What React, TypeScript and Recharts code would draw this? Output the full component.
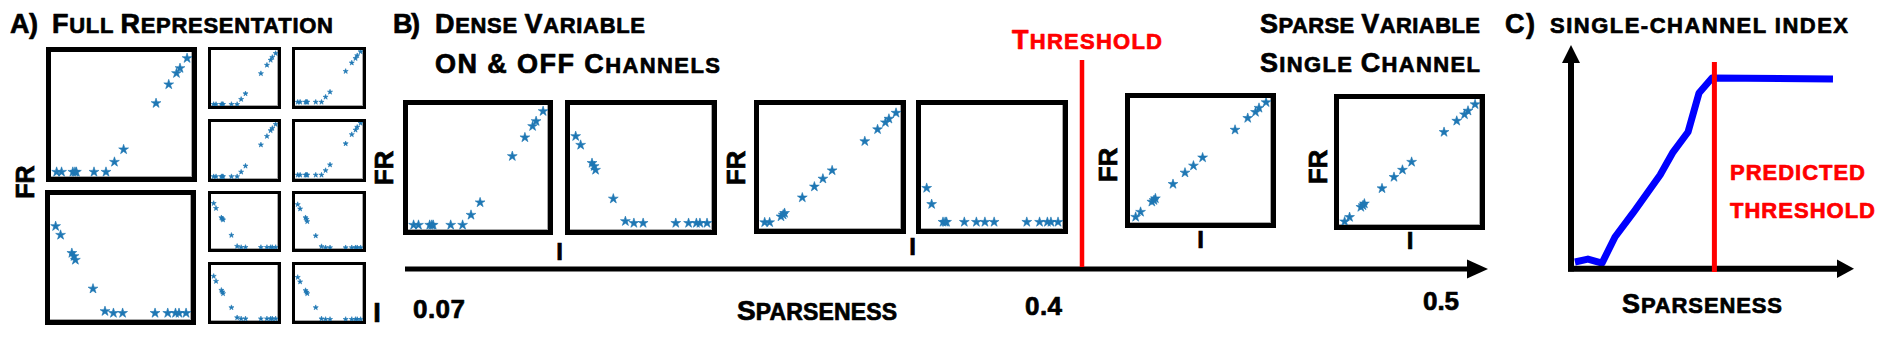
import React from 'react';
import { ScatterChart, Scatter, XAxis, YAxis, LineChart, Line, Symbols } from 'recharts';

// ---- data ----
const intensity = [0.04, 0.075, 0.155, 0.17, 0.18, 0.305, 0.39, 0.45, 0.515, 0.745, 0.835, 0.89, 0.915, 0.965];

const denseOnFR = [0.04, 0.04, 0.04, 0.04, 0.04, 0.04, 0.04, 0.12, 0.22, 0.59, 0.74, 0.83, 0.87, 0.95];
const denseOffFR = [0.75, 0.68, 0.535, 0.51, 0.48, 0.25, 0.07, 0.055, 0.055, 0.055, 0.055, 0.055, 0.055, 0.055];

const fullOn1 = [0.03, 0.03, 0.03, 0.03, 0.03, 0.03, 0.03, 0.12, 0.22, 0.58, 0.73, 0.82, 0.87, 0.94];
const fullOn2 = [0.07, 0.07, 0.07, 0.07, 0.07, 0.07, 0.07, 0.16, 0.25, 0.62, 0.77, 0.85, 0.9, 0.97];
const fullOn3 = [0.043, 0.043, 0.043, 0.043, 0.043, 0.043, 0.043, 0.123, 0.228, 0.6, 0.75, 0.85, 0.89, 0.96];
const fullOn4 = [0.07, 0.07, 0.07, 0.07, 0.07, 0.07, 0.07, 0.15, 0.25, 0.62, 0.78, 0.86, 0.91, 0.98];
const fullOff1 = [0.83, 0.74, 0.57, 0.55, 0.53, 0.25, 0.05, 0.03, 0.03, 0.03, 0.03, 0.03, 0.03, 0.03];
const fullOff2 = [0.81, 0.73, 0.57, 0.54, 0.5, 0.24, 0.045, 0.025, 0.025, 0.025, 0.025, 0.025, 0.025, 0.025];
const fullOff3 = [0.8, 0.71, 0.55, 0.52, 0.49, 0.24, 0.06, 0.04, 0.04, 0.04, 0.04, 0.04, 0.04, 0.04];
const fullOff4 = [0.78, 0.7, 0.545, 0.515, 0.49, 0.24, 0.04, 0.03, 0.03, 0.03, 0.03, 0.03, 0.03, 0.03];

const midOnFR = [0.053, 0.053, 0.1, 0.115, 0.128, 0.253, 0.341, 0.405, 0.472, 0.707, 0.803, 0.859, 0.888, 0.936];
const midOffFR = [0.33, 0.2, 0.056, 0.056, 0.056, 0.056, 0.056, 0.056, 0.056, 0.056, 0.056, 0.056, 0.056, 0.056];
const sparseFR1 = [0.048, 0.088, 0.169, 0.182, 0.196, 0.311, 0.402, 0.458, 0.523, 0.745, 0.839, 0.887, 0.92, 0.965];
const sparseFR2 = [0.027, 0.062, 0.142, 0.155, 0.169, 0.29, 0.38, 0.437, 0.5, 0.737, 0.826, 0.877, 0.906, 0.957];

const sparseness = [0.014, 0.06, 0.11, 0.156, 0.22, 0.316, 0.362, 0.415, 0.454, 0.5, 0.929];
const singleChannelIndex = [0.027, 0.04, 0.022, 0.139, 0.247, 0.417, 0.52, 0.61, 0.785, 0.852, 0.848];

const sparsenessTicks = ['0.07', '0.4', '0.5'];

const toPoints = (ys: number[]) => intensity.map((x, i) => ({ x, y: ys[i] }));
const channelData = sparseness.map((x, i) => ({ x, y: singleChannelIndex[i] }));

const FONT = '"Liberation Sans", Arial, Helvetica, sans-serif';
const STAR = '#1f77b4';

function Mini({ left, top, w, h, b, ys, star }: any) {
  const iw = w - 2 * b;
  const ih = h - 2 * b;
  return (
    <div
      style={{
        position: 'absolute', left, top, width: w, height: h, boxSizing: 'border-box',
        border: `${b}px solid #000`, background: '#fff',
      }}
    >
      <div style={{ position: 'absolute', left: 0, top: 0, width: iw, height: ih, boxShadow: 'inset -1px -1px 0 #a8a8a8' }} />
      <ScatterChart width={iw} height={ih} margin={{ top: 0, right: 0, bottom: 0, left: 0 }}>
        <XAxis type="number" dataKey="x" domain={[0, 1]} hide />
        <YAxis type="number" dataKey="y" domain={[0, 1]} hide />
        <Scatter
          data={toPoints(ys)}
          isAnimationActive={false}
          shape={(p: any) => (
            <Symbols type="star" size={star} cx={p.cx} cy={p.cy} fill={STAR} stroke={STAR} strokeWidth={0.6} strokeLinejoin="round" />
          )}
        />
      </ScatterChart>
    </div>
  );
}

function SC({ x, y, text, len, fill = '#000', big = 27, small = 22 }: any) {
  const runs: { cls: string; t: string }[] = [];
  let cur: { cls: string; t: string } | null = null;
  for (const ch of text) {
    let cls: string;
    if (/[a-z]/.test(ch)) cls = 's';
    else if (/[A-Z0-9]/.test(ch)) cls = 'b';
    else cls = cur ? cur.cls : 'b';
    if (!cur || cur.cls !== cls) {
      cur = { cls, t: '' };
      runs.push(cur);
    }
    cur.t += ch;
  }
  return (
    <text
      x={x} y={y} textLength={len} lengthAdjust="spacing" fill={fill}
      stroke={fill} strokeWidth={0.7} strokeLinejoin="round"
      fontFamily={FONT} fontWeight={700} style={{ whiteSpace: 'pre' }}
    >
      {runs.map((r, i) => (
        <tspan key={i} fontSize={r.cls === 'b' ? big : small}>
          {r.cls === 's' ? r.t.toUpperCase() : r.t}
        </tspan>
      ))}
    </text>
  );
}

function FR({ cx, cy, size = 26 }: any) {
  return (
    <text
      transform={`translate(${cx},${cy}) rotate(-90)`}
      textAnchor="middle"
      dominantBaseline="central"
      fontFamily={FONT}
      fontWeight={700}
      fontSize={size}
      fill="#000"
      stroke="#000"
      strokeWidth={0.7}
    >
      FR
    </text>
  );
}

function ILabel({ cx, y, size = 24 }: any) {
  return (
    <text x={cx} y={y} textAnchor="middle" fontFamily={FONT} fontWeight={700} fontSize={size} fill="#000" stroke="#000" strokeWidth={0.7}>
      I
    </text>
  );
}

export default function App() {
  return (
    <div style={{ position: 'absolute', left: 0, top: 0, width: 1888, height: 337, background: '#fff', overflow: 'hidden' }}>
      {/* Panel A */}
      <Mini left={46} top={47} w={151} h={135} b={5} ys={denseOnFR} star={30} />
      <Mini left={45} top={190} w={151} h={135} b={5} ys={denseOffFR} star={30} />
      <Mini left={208} top={47} w={73} h={62} b={3} ys={fullOn1} star={8} />
      <Mini left={292} top={47} w={74} h={62} b={3} ys={fullOn2} star={8} />
      <Mini left={208} top={119} w={73} h={63} b={3} ys={fullOn3} star={8} />
      <Mini left={292} top={119} w={74} h={63} b={3} ys={fullOn4} star={8} />
      <Mini left={208} top={191} w={73} h={61} b={3} ys={fullOff1} star={8} />
      <Mini left={292} top={191} w={74} h={61} b={3} ys={fullOff2} star={8} />
      <Mini left={208} top={262} w={73} h={62} b={3} ys={fullOff3} star={8} />
      <Mini left={292} top={262} w={74} h={62} b={3} ys={fullOff4} star={8} />

      {/* Panel B */}
      <Mini left={403} top={100} w={150} h={135} b={5} ys={denseOnFR} star={30} />
      <Mini left={565} top={100} w={152} h={135} b={5} ys={denseOffFR} star={30} />
      <Mini left={754} top={100} w={152} h={134} b={5} ys={midOnFR} star={30} />
      <Mini left={916} top={100} w={152} h={134} b={5} ys={midOffFR} star={30} />
      <Mini left={1125} top={93} w={151} h={135} b={5} ys={sparseFR1} star={30} />
      <Mini left={1334} top={94} w={151} h={136} b={5} ys={sparseFR2} star={30} />

      {/* Panel C */}
      <div style={{ position: 'absolute', left: 1571, top: 45 }}>
        <LineChart width={282} height={223} data={channelData} margin={{ top: 0, right: 0, bottom: 0, left: 0 }}>
          <XAxis type="number" dataKey="x" domain={[0, 1]} hide />
          <YAxis type="number" domain={[0, 1]} hide />
          <Line
            type="linear"
            dataKey="y"
            stroke="#0000ff"
            strokeWidth={7}
            strokeLinejoin="round"
            dot={false}
            isAnimationActive={false}
          />
        </LineChart>
      </div>

      {/* Overlay: labels, arrows */}
      <svg width={1888} height={337} style={{ position: 'absolute', left: 0, top: 0, pointerEvents: 'none' }}>
        {/* titles */}
        <SC x={10} y={33} text="A)" len={28} />
        <SC x={52} y={33} text="Full Representation" len={281} />
        <SC x={393} y={33} text="B)" len={27} />
        <SC x={435} y={33} text="Dense Variable" len={210} />
        <SC x={435} y={73} text="ON & OFF Channels" len={285} />
        <SC x={1012} y={49} text="Threshold" len={150} fill="#ff0000" />
        <SC x={1260} y={33} text="Sparse Variable" len={220} />
        <SC x={1260} y={72} text="Single Channel" len={220} />
        <SC x={1505} y={33} text="C)" len={30} />
        <SC x={1550} y={33} text="single-channel index" len={298} />
        <SC x={1730} y={180} text="predicted" len={135} fill="#ff0000" />
        <SC x={1730} y={218} text="threshold" len={145} fill="#ff0000" />
        <SC x={737} y={320} text="Sparseness" len={160} big={28} small={23} />
        <SC x={1622} y={313} text="Sparseness" len={160} />

        {/* sparseness tick labels */}
        <SC x={413} y={318} text={sparsenessTicks[0]} len={52} big={26} />
        <SC x={1025} y={315} text={sparsenessTicks[1]} len={37} big={26} />
        <SC x={1423} y={310} text={sparsenessTicks[2]} len={36} big={26} />

        {/* FR labels */}
        <FR cx={25} cy={182} size={25} />
        <FR cx={384} cy={168} />
        <FR cx={736} cy={168} />
        <FR cx={1108} cy={165} />
        <FR cx={1318} cy={167} />

        {/* I labels */}
        <ILabel cx={377} y={322} size={27} />
        <ILabel cx={559.5} y={260} />
        <ILabel cx={912.5} y={255} />
        <ILabel cx={1200.5} y={248} />
        <ILabel cx={1410} y={249} />

        {/* Panel B sparseness arrow */}
        <line x1={405} y1={269} x2={1470} y2={269} stroke="#000" strokeWidth={5} />
        <polygon points="1467,259.5 1488,269 1467,278.5" fill="#000" />
        {/* Threshold line */}
        <line x1={1082} y1={60} x2={1082} y2={267} stroke="#ff0000" strokeWidth={4.5} />

        {/* Panel C axes */}
        <line x1={1571} y1={271.5} x2={1571} y2={60} stroke="#000" strokeWidth={6} />
        <polygon points="1562,63 1571,45 1580,63" fill="#000" />
        <line x1={1568} y1={268.7} x2={1840} y2={268.7} stroke="#000" strokeWidth={6} />
        <polygon points="1837,259.5 1854,268.7 1837,277.9" fill="#000" />
        <line x1={1714.4} y1={62} x2={1714.4} y2={272} stroke="#ff0000" strokeWidth={5} />
      </svg>
    </div>
  );
}
